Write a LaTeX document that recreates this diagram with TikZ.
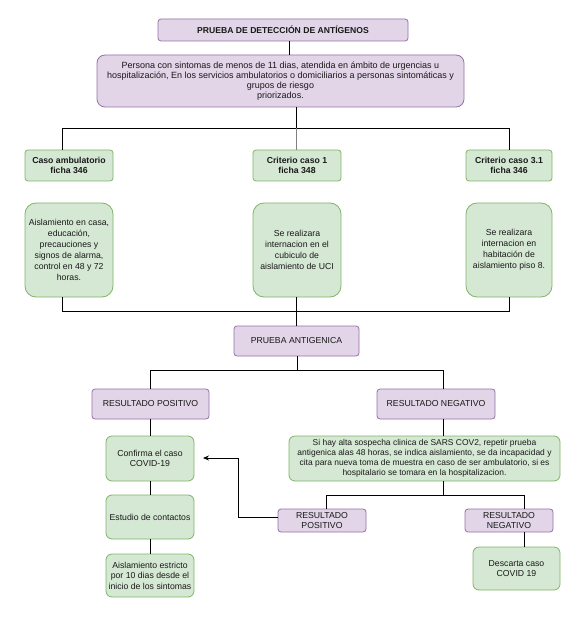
\documentclass[tikz,border=0pt]{standalone}
\usepackage{fontspec}
\setmainfont{Liberation Sans}
\usetikzlibrary{arrows.meta}
\definecolor{pfill}{HTML}{E1D5E7}
\definecolor{pdraw}{HTML}{9673A6}
\definecolor{gfill}{HTML}{D5E8D4}
\definecolor{gdraw}{HTML}{82B366}
\tikzset{
  bx/.style={rectangle, inner sep=1pt, align=center, line width=0.8pt, text=black!90,
    font=\fontsize{8.7}{10.4}\selectfont},
  purp/.style={bx, fill=pfill, draw=pdraw, rounded corners=3pt},
  grn/.style={bx, fill=gfill, draw=gdraw, rounded corners=4pt},
  grnr/.style={bx, fill=gfill, draw=gdraw, rounded corners=11pt, font=\fontsize{8.7}{11}\selectfont},
  conn/.style={line width=0.8pt, draw=black},
}
\begin{document}
\begin{tikzpicture}[x=1pt,y=-1pt]
\path[use as bounding box, fill=white] (0,0) rectangle (566,617);

\node[purp, minimum width=250pt, minimum height=22pt, font=\fontsize{8.6}{10}\selectfont] (title) at (283,30) {\textbf{PRUEBA DE DETECCIÓN DE ANTÍGENOS}};
\node[purp, rounded corners=8pt, minimum width=367pt, minimum height=52pt, font=\fontsize{9}{10}\selectfont] (intro) at (280.5,81)
 {Persona con sintomas de menos de 11 dias, atendida en ámbito de urgencias u\\hospitalización, En los servicios ambulatorios o domiciliarios a personas sintomáticas y\\grupos de riesgo\\priorizados.};

\node[grn, rounded corners=3pt, minimum width=88pt, minimum height=31pt] (case1) at (69,165.5) {\textbf{Caso ambulatorio}\\\textbf{ficha 346}};
\node[grn, rounded corners=3pt, minimum width=88pt, minimum height=31pt] (case2) at (297,165.5) {\textbf{Criterio caso 1}\\\textbf{ficha 348}};
\node[grn, rounded corners=3pt, minimum width=86pt, minimum height=31pt] (case3) at (509,165.5) {\textbf{Criterio caso 3.1}\\\textbf{ficha 346}};

\node[grnr, minimum width=88pt, minimum height=94pt] (low1) at (69,250) {Aislamiento en casa,\\educación,\\precauciones y\\signos de alarma,\\control en 48 y 72\\horas.};
\node[grnr, minimum width=88pt, minimum height=94pt] (low2) at (297,250) {Se realizara\\internacion en el\\cubiculo de\\aislamiento de UCI};
\node[grnr, minimum width=86pt, minimum height=94pt] (low3) at (509,250) {Se realizara\\internacion en\\habitación de\\aislamiento piso 8.};

\node[purp, minimum width=125pt, minimum height=30pt] (prueba) at (296.5,341) {PRUEBA ANTIGENICA};
\node[purp, minimum width=117pt, minimum height=30pt] (rpos) at (150.5,404) {RESULTADO POSITIVO};
\node[purp, minimum width=118pt, minimum height=30pt] (rneg) at (436,404) {RESULTADO NEGATIVO};

\node[grn, rounded corners=6pt, minimum width=88pt, minimum height=45pt] (conf) at (150,458.5) {Confirma el caso\\COVID-19};
\node[grn, rounded corners=6pt, minimum width=88pt, minimum height=44pt] (est) at (150,517) {Estudio de contactos};
\node[grn, rounded corners=6pt, minimum width=88pt, minimum height=43pt] (ais) at (150,575.5) {Aislamiento estricto\\por 10 dias desde el\\inicio de los sintomas};

\node[grn, rounded corners=6pt, minimum width=271pt, minimum height=45pt, font=\fontsize{8.45}{10}\selectfont] (negbox) at (424.5,458.5)
 {Si hay alta sospecha clinica de SARS COV2, repetir prueba\\antigenica alas 48 horas, se indica aislamiento, se da incapacidad y\\cita para nueva toma de muestra en caso de ser ambulatorio, si es\\hospitalario se tomara en la hospitalizacion.};

\node[purp, minimum width=88pt, minimum height=23pt, font=\fontsize{8.7}{10}\selectfont] (spos) at (322,520.5) {RESULTADO\\POSITIVO};
\node[purp, minimum width=88pt, minimum height=23pt, font=\fontsize{8.7}{10}\selectfont] (sneg) at (509,520.5) {RESULTADO\\NEGATIVO};
\node[grn, rounded corners=6pt, minimum width=87pt, minimum height=43pt] (desc) at (516.5,568.5) {Descarta caso\\COVID 19};

% coordinates for trunks
\coordinate (t1) at (289,0);
\coordinate (j1) at (296,128);
\coordinate (c1) at (62,0);
\coordinate (c3) at (509,0);
\coordinate (j2) at (296,311);
\coordinate (j3) at (297,370);
\coordinate (p1) at (150,0);
\coordinate (p2) at (443,0);
\coordinate (j4) at (443,495);
\coordinate (q1) at (326,0);
\coordinate (q2) at (524,0);
\coordinate (a1) at (238,517);
\coordinate (a2) at (203,458);

\draw[conn] (title.south -| t1) -- (intro.north -| t1);
\draw[conn] (intro.south -| j1) -- (j1);
\draw[conn] (case1.north -| c1) -- (c1 |- j1) -- (c3 |- j1) -- (case3.north -| c3);
\draw[line width=0.8pt, draw=gray] (j1) -- (case2.north -| j1);

\draw[conn] (low1.south -| c1) -- (c1 |- j2) -- (c3 |- j2) -- (low3.south -| c3);
\draw[conn] (low2.south -| j2) -- (prueba.north -| j2);

\draw[conn] (prueba.south -| j3) -- (j3);
\draw[conn] (rpos.north -| p1) -- (p1 |- j3) -- (p2 |- j3) -- (rneg.north -| p2);

\draw[conn] (rpos.south -| p1) -- (conf.north -| p1);
\draw[conn] (conf.south -| p1) -- (est.north -| p1);
\draw[conn] (est.south -| p1) -- (ais.north -| p1);

\draw[conn] (rneg.south -| p2) -- (negbox.north -| p2);
\draw[conn] (negbox.south -| j4) -- (j4);
\draw[conn] (spos.north -| q1) -- (q1 |- j4) -- (q2 |- j4) -- (sneg.north -| q2);
\draw[conn] (sneg.south -| q2) -- (desc.north -| q2);

\draw[conn, -{Stealth[length=6pt,width=5pt,inset=2pt]}] (spos.west |- a1) -- (a1) |- (a2);
\end{tikzpicture}
\end{document}
